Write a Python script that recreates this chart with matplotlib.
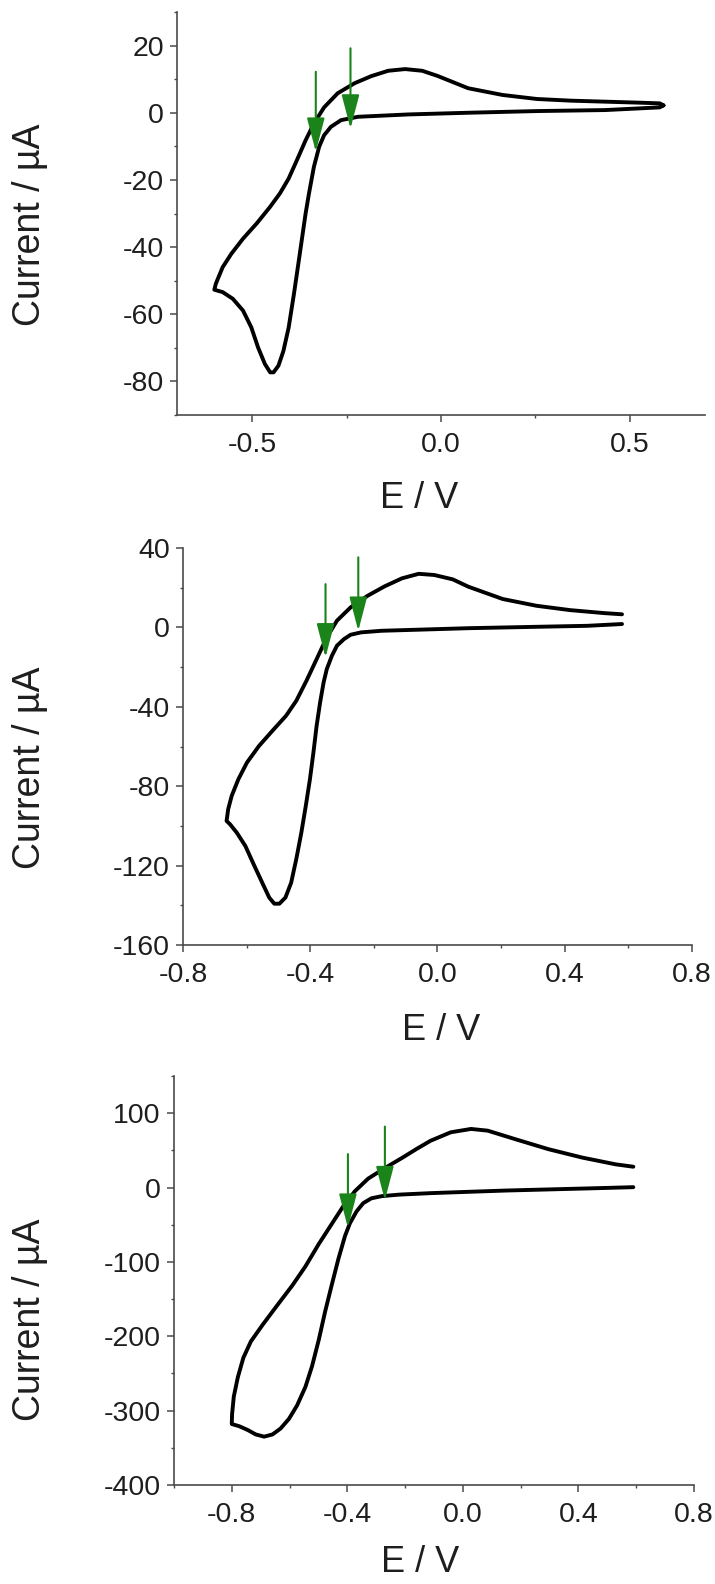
import matplotlib.pyplot as plt
from matplotlib.ticker import MultipleLocator

# Panel 1: cathodic sweep from the positive end to the vertex, then the return sweep
p1_e = [0.590, 0.580, 0.526, 0.435, 0.254, 0.072, -0.086, -0.220, -0.265,
        -0.292, -0.310, -0.323, -0.337, -0.350, -0.359, -0.368, -0.377,
        -0.390, -0.404, -0.418, -0.431, -0.444, -0.453, -0.467, -0.485,
        -0.503, -0.525, -0.552, -0.579, -0.601,
        -0.597, -0.579, -0.556, -0.525, -0.489, -0.453, -0.427, -0.404,
        -0.382, -0.359, -0.337, -0.310, -0.274, -0.229, -0.185, -0.140,
        -0.095, -0.050, -0.010, 0.030, 0.072, 0.163, 0.254, 0.344, 0.435,
        0.526, 0.580, 0.590]
p1_i = [2.2, 1.6, 1.3, 0.8, 0.5, 0.0, -0.5, -1.2, -2.2,
        -4.2, -6.7, -10.1, -16.1, -24.0, -30.0, -37.0, -44.0,
        -54.0, -64.0, -71.0, -75.3, -77.3, -77.3, -74.8, -69.9,
        -63.9, -58.9, -55.4, -53.4, -52.7,
        -50.9, -46.0, -42.0, -37.5, -33.0, -28.0, -24.0, -19.6,
        -14.1, -8.2, -3.2, 1.6, 5.8, 8.8, 10.9, 12.5,
        13.0, 12.5, 11.0, 9.2, 7.3, 5.3, 4.1, 3.6, 3.3,
        3.0, 2.8, 2.2]
p1_arrow_e = [-0.332, -0.240]
p1_arrow_top = [12.2, 19.2]
p1_arrow_tip = [-11.6, -4.7]

# Panel 2
p2_e = [0.580, 0.471, 0.311, 0.097, -0.070, -0.176, -0.240, -0.273,
        -0.294, -0.316, -0.332, -0.348, -0.358, -0.369, -0.380, -0.390,
        -0.401, -0.414, -0.428, -0.444, -0.460, -0.478, -0.497, -0.513,
        -0.529, -0.551, -0.578, -0.604, -0.631, -0.652, -0.663,
        -0.658, -0.647, -0.626, -0.599, -0.561, -0.519, -0.476, -0.444,
        -0.412, -0.380, -0.348, -0.316, -0.273, -0.219, -0.166, -0.112,
        -0.059, -0.010, 0.048, 0.097, 0.205, 0.311, 0.417, 0.524, 0.580]
p2_i = [1.7, 0.8, 0.3, -0.4, -1.2, -1.7, -2.5, -3.7,
        -5.9, -9.2, -14.3, -21.0, -27.7, -37.8, -49.6, -63.0,
        -76.5, -89.9, -103.4, -116.8, -128.6, -136.1, -139.2, -139.2,
        -136.1, -128.6, -119.3, -110.1, -103.4, -99.2, -97.5,
        -91.6, -84.9, -76.5, -68.1, -59.7, -52.1, -44.5, -37.0,
        -26.9, -16.0, -5.0, 3.4, 10.1, 16.0, 20.7, 24.7,
        27.0, 26.4, 24.2, 20.5, 14.3, 10.9, 8.7, 7.2, 6.6]
p2_arrow_e = [-0.352, -0.249]
p2_arrow_top = [21.8, 35.3]
p2_arrow_tip = [-15.1, -1.7]

# Panel 3
p3_e = [0.590, 0.450, 0.300, 0.150, 0.000, -0.110, -0.220, -0.280, -0.317,
        -0.345, -0.368, -0.391, -0.408, -0.431, -0.454, -0.477, -0.499,
        -0.522, -0.545, -0.574, -0.602, -0.631, -0.659, -0.688, -0.717,
        -0.745, -0.774, -0.800,
        -0.799, -0.793, -0.779, -0.760, -0.734, -0.694, -0.642, -0.591,
        -0.545, -0.499, -0.454, -0.414, -0.374, -0.328, -0.271, -0.210,
        -0.160, -0.112, -0.042, 0.028, 0.086, 0.180, 0.296, 0.413, 0.529,
        0.590]
p3_i = [0.5, -1.0, -2.5, -4.0, -6.0, -7.5, -9.5, -11.5, -14.5,
        -21.0, -32.0, -48.0, -65.0, -96.0, -131.0, -167.0, -205.0,
        -240.0, -268.0, -293.0, -311.0, -324.0, -332.0, -335.0, -332.0,
        -326.0, -321.0, -318.0,
        -305.0, -281.0, -255.0, -229.0, -207.0, -185.0, -158.0, -132.0,
        -106.0, -76.0, -49.0, -25.0, -5.0, 12.0, 26.0, 40.0,
        52.0, 62.9, 74.3, 78.8, 76.5, 65.2, 51.6, 40.3, 31.2,
        28.0]
p3_arrow_e = [-0.398, -0.270]
p3_arrow_top = [45.0, 82.0]
p3_arrow_tip = [-54.0, -17.0]

ARROW_GREEN = "#1a841a"
AXIS_GREY = "#4a4a4a"
TEXT = "#1e1e1e"

plt.rcParams["font.family"] = ["Liberation Sans", "DejaVu Sans"]

W, H = 715, 1584
fig = plt.figure(figsize=(W / 100, H / 100), dpi=100)


def px_rect(left, right, top, bottom):
    """Axes rectangle from pixel edges (origin top-left)."""
    return [left / W, 1 - bottom / H, (right - left) / W, (bottom - top) / H]


def frac(rect_px, x, y):
    """Pixel point -> axes fraction for label placement."""
    left, right, top, bottom = rect_px
    return (x - left) / (right - left), (bottom - y) / (bottom - top)


panels = [
    dict(e=p1_e, i=p1_i, ae=p1_arrow_e, at=p1_arrow_top, ap=p1_arrow_tip,
         box=(177, 705, 12, 415), xlim=(-0.7, 0.7), ylim=(-90, 30),
         xminor=0.25, yminor=10, xticks=[-0.5, 0.0, 0.5],
         yticks=[-80, -60, -40, -20, 0, 20],
         xlab=(419, 499), ylab=(30, 225)),
    dict(e=p2_e, i=p2_i, ae=p2_arrow_e, at=p2_arrow_top, ap=p2_arrow_tip,
         box=(183, 692, 548, 945), xlim=(-0.8, 0.8), ylim=(-160, 40),
         xminor=0.2, yminor=20, xticks=[-0.8, -0.4, 0.0, 0.4, 0.8],
         yticks=[-160, -120, -80, -40, 0, 40],
         xlab=(441, 1030), ylab=(30, 768)),
    dict(e=p3_e, i=p3_i, ae=p3_arrow_e, at=p3_arrow_top, ap=p3_arrow_tip,
         box=(174, 694, 1076, 1485), xlim=(-1.0, 0.8), ylim=(-400, 150),
         xminor=0.2, yminor=50, xticks=[-0.8, -0.4, 0.0, 0.4, 0.8],
         yticks=[-400, -300, -200, -100, 0, 100],
         xlab=(420, 1562), ylab=(30, 1320)),
]

for p in panels:
    ax = fig.add_axes(px_rect(*p["box"]))
    ax.plot(p["e"], p["i"], color="black", lw=2.8, solid_joinstyle="round",
            solid_capstyle="round")

    # green arrows marking the onset potentials
    for x, top, tip in zip(p["ae"], p["at"], p["ap"]):
        ax.annotate(
            "", xy=(x, tip), xytext=(x, top),
            arrowprops=dict(arrowstyle="-|>,head_length=21,head_width=5.5",
                            mutation_scale=1, color=ARROW_GREEN, lw=1.5,
                            shrinkA=0, shrinkB=0),
        )

    ax.set_xlim(*p["xlim"])
    ax.set_ylim(*p["ylim"])
    ax.set_xticks(p["xticks"])
    ax.set_xticklabels([f"{v:.1f}" for v in p["xticks"]])
    ax.set_yticks(p["yticks"])
    ax.set_yticklabels([f"{v:d}" for v in p["yticks"]])
    ax.xaxis.set_minor_locator(MultipleLocator(p["xminor"]))
    ax.yaxis.set_minor_locator(MultipleLocator(p["yminor"]))

    for side in ("top", "right"):
        ax.spines[side].set_visible(False)
    for side in ("left", "bottom"):
        ax.spines[side].set_color(AXIS_GREY)
        ax.spines[side].set_linewidth(1.2)

    ax.tick_params(which="major", direction="out", length=5, width=1.1,
                   color=AXIS_GREY, labelsize=20.5, labelcolor=TEXT)
    ax.tick_params(which="minor", direction="out", length=2.5, width=1.0,
                   color=AXIS_GREY)
    ax.tick_params(axis="x", which="major", pad=7.5)
    ax.tick_params(axis="y", which="major", pad=4.5)

    ax.set_xlabel("E / V", fontsize=26, color=TEXT)
    ax.set_ylabel("Current / \u00b5A", fontsize=27, color=TEXT)
    ax.xaxis.label.set_va("center")
    ax.yaxis.label.set_va("center")
    ax.xaxis.set_label_coords(*frac(p["box"], *p["xlab"]))
    ax.yaxis.set_label_coords(*frac(p["box"], *p["ylab"]))

fig.savefig("out.png", dpi=100)
